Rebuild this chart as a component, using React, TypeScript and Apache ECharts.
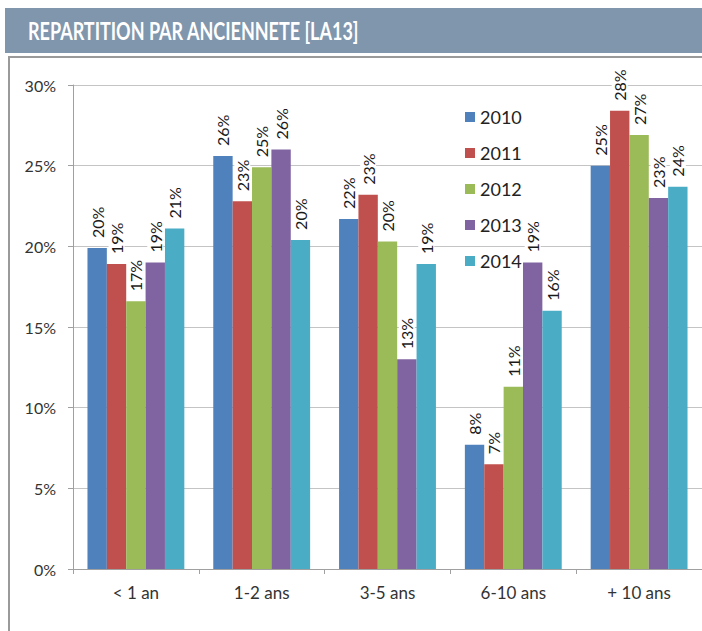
import React, { useEffect, useRef } from "react";
import * as echarts from "echarts";

const categories = ["< 1 an", "1-2 ans", "3-5 ans", "6-10 ans", "+ 10 ans"];
const years = ["2010", "2011", "2012", "2013", "2014"];
const v2010 = [19.9, 25.6, 21.7, 7.7, 25.0];
const v2011 = [18.9, 22.8, 23.2, 6.5, 28.4];
const v2012 = [16.6, 24.9, 20.3, 11.3, 26.9];
const v2013 = [19.0, 26.0, 13.0, 19.0, 23.0];
const v2014 = [21.1, 20.4, 18.9, 16.0, 23.7];
const seriesValues = [v2010, v2011, v2012, v2013, v2014];
const colors = ["#4F81BD", "#C0504D", "#9BBB59", "#8064A2", "#4BACC6"];
const titleText = "REPARTITION PAR ANCIENNETE [LA13]";

export default function App() {
  const ref = useRef<HTMLDivElement>(null);
  useEffect(() => {
    document.body.style.margin = "0";
    const chart = echarts.init(ref.current!, null, { renderer: "svg" });
    const font = "Lato, 'Open Sans', sans-serif";
    chart.setOption({
      animation: false,
      backgroundColor: "#ffffff",
      color: colors,
      graphic: [
        {
          type: "rect",
          shape: { x: 5, y: 8, width: 697, height: 45 },
          style: { fill: "#7f96ad" },
          silent: true,
        },
        {
          type: "text",
          x: 28,
          y: 31,
          scaleX: 0.75,
          style: {
            text: titleText,
            fill: "#ffffff",
            font: "bold 24px Lato, 'Open Sans', sans-serif",
            textVerticalAlign: "middle",
          },
          silent: true,
        },
        {
          type: "rect",
          shape: { x: 9, y: 57, width: 700, height: 580 },
          style: { fill: "none", stroke: "#9a9a9a", lineWidth: 2 },
          silent: true,
        },
      ],
      legend: {
        orient: "vertical",
        left: 460,
        top: 103,
        itemWidth: 10,
        itemHeight: 10,
        itemGap: 18,
        icon: "rect",
        data: years,
        textStyle: { fontFamily: font, fontSize: 18, color: "#222" },
      },
      grid: { left: 73, right: -3, top: 85, bottom: 62, containLabel: false },
      xAxis: {
        type: "category",
        data: categories,
        axisLine: { lineStyle: { color: "#a0a0a0" } },
        axisTick: { show: true, alignWithLabel: false, length: 5, lineStyle: { color: "#a0a0a0" } },
        axisLabel: { fontFamily: font, fontSize: 17, color: "#333", margin: 15 },
      },
      yAxis: {
        type: "value",
        min: 0,
        max: 30,
        interval: 5,
        axisLine: { show: true, lineStyle: { color: "#a0a0a0" } },
        axisTick: { show: true, length: 5, lineStyle: { color: "#a0a0a0" } },
        axisLabel: { formatter: "{value}%", fontFamily: font, fontSize: 16, color: "#333", margin: 17 },
        splitLine: { lineStyle: { color: "#c4c4c4" } },
      },
      series: years.map((y, i) => ({
        name: y,
        type: "bar",
        data: seriesValues[i],
        barGap: "0%",
        barCategoryGap: "23%",
        itemStyle: { color: colors[i] },
        label: {
          show: true,
          position: "top",
          rotate: 90,
          align: "left",
          verticalAlign: "middle",
          distance: 7,
          formatter: (p: any) => Math.round(p.value) + "%",
          fontFamily: font,
          fontSize: 16,
          color: "#1a1a1a",
          backgroundColor: "#ffffff",
          padding: [0, 3],
        },
      })),
    });
    return () => chart.dispose();
  }, []);
  return <div ref={ref} style={{ width: 702, height: 631 }} />;
}
